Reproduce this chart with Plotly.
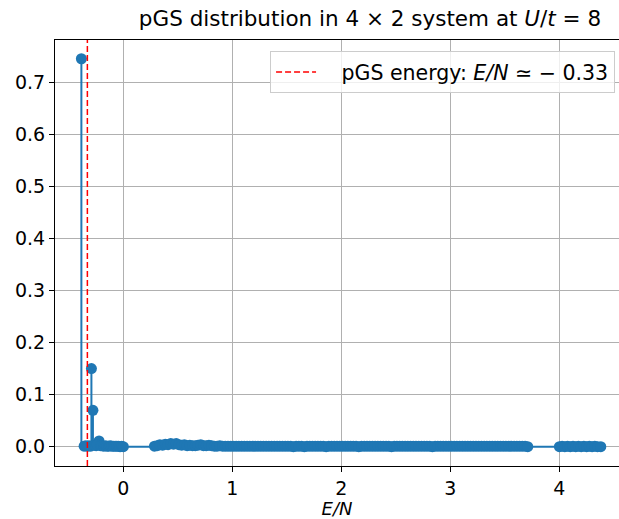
import plotly.graph_objects as go

# Dominant weights of the projected ground state (energy per site, weight)
peak_energy = [-0.385, -0.293, -0.279, -0.223]
peak_weight = [0.745, 0.150, 0.070, 0.011]

# Low-lying cluster just above the ground state
low_energy = [-0.360, -0.345, -0.330, -0.315, -0.300, -0.265, -0.250, -0.240,
              -0.210, -0.195, -0.180, -0.165, -0.150, -0.135, -0.120, -0.105,
              -0.090, -0.075, -0.060, -0.045, -0.030, -0.015, 0.000]
low_weight = [0.001, 0.002, 0.001, 0.002, 0.001, 0.003, 0.002, 0.004,
              0.002, 0.002, 0.001, 0.002, 0.001, 0.001, 0.002, 0.001,
              0.001, 0.001, 0.001, 0.001, 0.000, 0.001, 0.000]

# Main band of excited states
band_energy = [0.285, 0.310, 0.335, 0.360, 0.385, 0.410, 0.435, 0.460, 0.485, 0.510,
               0.535, 0.560, 0.585, 0.610, 0.635, 0.660, 0.685, 0.710, 0.735, 0.760,
               0.785, 0.810, 0.835, 0.860, 0.885, 0.910, 0.935, 0.960, 0.985, 1.010,
               1.035, 1.060, 1.085, 1.110, 1.135, 1.160, 1.185, 1.210, 1.235, 1.260,
               1.285, 1.310, 1.335, 1.360, 1.385, 1.410, 1.435, 1.460, 1.485, 1.510,
               1.535, 1.560, 1.585, 1.610, 1.635, 1.660, 1.685, 1.710, 1.735, 1.760,
               1.785, 1.810, 1.835, 1.860, 1.885, 1.910, 1.935, 1.960, 1.985, 2.010,
               2.035, 2.060, 2.085, 2.110, 2.135, 2.160, 2.185, 2.210, 2.235, 2.260,
               2.285, 2.310, 2.335, 2.360, 2.385, 2.410, 2.435, 2.460, 2.485, 2.510,
               2.535, 2.560, 2.585, 2.610, 2.635, 2.660, 2.685, 2.710, 2.735, 2.760,
               2.785, 2.810, 2.835, 2.860, 2.885, 2.910, 2.935, 2.960, 2.985, 3.010,
               3.035, 3.060, 3.085, 3.110, 3.135, 3.160, 3.185, 3.210, 3.235, 3.260,
               3.285, 3.310, 3.335, 3.360, 3.385, 3.410, 3.435, 3.460, 3.485, 3.510,
               3.535, 3.560, 3.585, 3.610, 3.635, 3.660, 3.685, 3.710]
band_weight = [0.001, 0.002, 0.004, 0.003, 0.005, 0.004, 0.006, 0.005, 0.006, 0.004,
               0.003, 0.004, 0.002, 0.003, 0.002, 0.002, 0.003, 0.004, 0.002, 0.002,
               0.003, 0.002, 0.001, 0.001, 0.002, 0.001, 0.001, 0.001, 0.001, 0.001,
               0.001, 0.001, 0.001, 0.001, 0.001, 0.001, 0.001, 0.001, 0.001, 0.001,
               0.001, 0.001, 0.001, 0.001, 0.001, 0.001, 0.001, 0.001, 0.001, 0.001,
               0.001, 0.000, 0.001, 0.001, 0.001, 0.000, 0.001, 0.001, 0.001, 0.001,
               0.001, 0.001, 0.001, 0.000, 0.001, 0.001, 0.001, 0.001, 0.001, 0.001,
               0.001, 0.001, 0.001, 0.001, 0.001, 0.000, 0.001, 0.001, 0.001, 0.001,
               0.001, 0.001, 0.001, 0.001, 0.001, 0.001, 0.001, 0.000, 0.001, 0.001,
               0.001, 0.001, 0.001, 0.001, 0.001, 0.001, 0.001, 0.001, 0.001, 0.001,
               0.001, 0.001, 0.000, 0.001, 0.001, 0.001, 0.001, 0.001, 0.001, 0.001,
               0.001, 0.001, 0.001, 0.001, 0.001, 0.001, 0.001, 0.001, 0.001, 0.001,
               0.001, 0.001, 0.001, 0.001, 0.001, 0.001, 0.001, 0.001, 0.001, 0.001,
               0.001, 0.001, 0.001, 0.001, 0.001, 0.001, 0.001, 0.000]

# Upper band (doubly occupied sector)
upper_energy = [4.000, 4.025, 4.050, 4.075, 4.100, 4.125, 4.150, 4.175,
                4.200, 4.225, 4.250, 4.275, 4.300, 4.325, 4.350, 4.380]
upper_weight = [0.000, 0.001, 0.000, 0.001, 0.000, 0.001, 0.000, 0.001,
                0.000, 0.001, 0.000, 0.001, 0.000, 0.001, 0.000, 0.000]

pgs_energy = -0.33

x_ticks = [0, 1, 2, 3, 4]
y_ticks = [0.0, 0.1, 0.2, 0.3, 0.4, 0.5, 0.6, 0.7]

energy = peak_energy + low_energy + band_energy + upper_energy
weight = peak_weight + low_weight + band_weight + upper_weight

BLUE = "#1f77b4"
FONT = "DejaVu Sans"

# stem segments from the baseline up to each weight
stem_x, stem_y = [], []
for e, w in zip(energy, weight):
    stem_x += [e, e, None]
    stem_y += [0, w, None]

y_lo, y_hi = -0.037, 0.781
x_lo, x_hi = -0.627, 4.547

fig = go.Figure()

fig.add_trace(go.Scatter(x=stem_x, y=stem_y, mode="lines",
                         line=dict(color=BLUE, width=2), showlegend=False,
                         hoverinfo="skip"))
fig.add_trace(go.Scatter(x=[min(energy), max(energy)], y=[0, 0], mode="lines",
                         line=dict(color=BLUE, width=2), showlegend=False,
                         hoverinfo="skip"))
fig.add_trace(go.Scatter(x=energy, y=weight, mode="markers",
                         marker=dict(color=BLUE, size=11, line=dict(width=0)),
                         showlegend=False))
fig.add_trace(go.Scatter(x=[pgs_energy, pgs_energy], y=[y_lo, y_hi], mode="lines",
                         line=dict(color="red", width=1.5, dash="6px,3px"),
                         name="\u2002\u2002pGS energy: <i>E/N</i> ≃ − 0.33"))

fig.update_layout(
    width=619, height=519,
    margin=dict(l=55, r=0, t=40, b=53),
    plot_bgcolor="white", paper_bgcolor="white",
    font=dict(family=FONT, size=19, color="black"),
    title=dict(text="pGS distribution in 4 × 2 system at <i>U</i>/<i>t</i> = 8",
               font=dict(size=21.5), x=370 / 619, xanchor="center",
               xref="container", y=1 - 18 / 519, yref="container", yanchor="middle"),
    showlegend=True,
    legend=dict(x=0.993, y=0.974, xanchor="right", yanchor="top",
                bgcolor="rgba(255,255,255,0.8)", bordercolor="#cccccc", borderwidth=1,
                font=dict(size=20.5), itemwidth=40),
)

fig.update_xaxes(range=[x_lo, x_hi], tickvals=x_ticks, ticks="outside", ticklen=5,
                 tickcolor="black", showline=True, linecolor="black", linewidth=1,
                 mirror=True, showgrid=True, gridcolor="#b0b0b0", gridwidth=1,
                 zeroline=False,
                 title=dict(text="<i>E/N</i>", standoff=2, font=dict(size=18)))
fig.update_yaxes(range=[y_lo, y_hi], tickvals=y_ticks, tickformat=".1f",
                 ticks="outside", ticklen=5, tickcolor="black", showline=True,
                 linecolor="black", linewidth=1, showgrid=True, gridcolor="#b0b0b0",
                 gridwidth=1, zeroline=False)

fig.write_html("out.html")
